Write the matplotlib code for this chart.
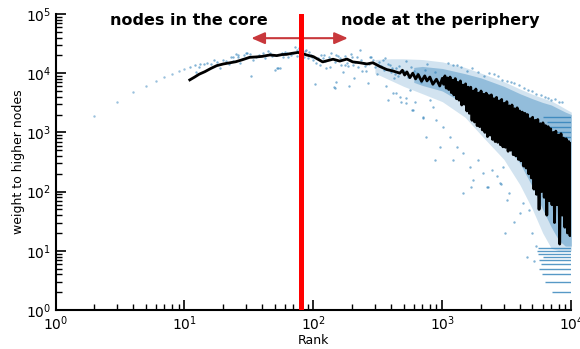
import numpy as np
import matplotlib
matplotlib.use('Agg')
import matplotlib.pyplot as plt

# points for the very first ranks
head_rank = [2, 3, 4, 5, 6, 7, 8, 9, 10]
head_weight = [1900, 3250, 4800, 6000, 7400, 8700, 9700, 11000, 11700]

# stray points
cloud_rank = [11, 12.2, 13.1, 14.2, 15, 16, 17, 19, 21, 23, 24, 25, 26, 27, 29, 30.7,
              12, 13, 33, 30, 36, 41, 44.5, 52, 55, 56.6, 62, 67.6, 72, 74, 78, 86, 91, 96, 99,
              105, 112, 119, 126, 138, 146, 160, 170, 181, 191, 203, 216, 229, 250, 265, 290,
              317, 336, 356, 378, 401, 425, 440, 50, 53, 102, 146, 151, 208, 481, 527, 586,
              610, 560, 440, 366, 144, 190, 707, 590, 900, 527, 468, 415, 850,
              870, 710, 800, 750, 1020, 960, 1140, 1290, 1200, 1450, 1630, 1720, 1900, 2070,
              2270, 2410, 2640, 2780, 2960, 1450, 1680, 2200, 2860, 3050, 3180, 3300, 3600,
              3970, 4500, 4200, 4700, 5000, 5100, 5300,
              1100, 1300, 1700, 2300, 2500, 3200, 3600, 4300, 5000, 5800, 6600, 7500, 8500,
              120, 135, 155, 175, 195, 240, 275, 310, 345, 390, 450, 520, 600, 680, 760,
              18, 20, 22, 24, 26, 28, 32, 34, 38, 42, 46, 48, 58, 60, 64, 70, 75, 80, 84, 88, 93, 98,
              108, 115, 124, 132, 150, 165, 175, 185, 198, 210, 222, 235, 245, 258, 270, 282,
              300, 325, 350, 380, 410, 430, 460, 500, 540, 570, 640, 700, 740, 820, 880, 940,
              1200, 1400, 1550, 1900, 2100, 2700, 2900, 3400, 3900, 4600, 5300, 6200, 7000, 8000]
cloud_weight = [12900, 10600, 14100, 14100, 14700, 14100, 16500, 12000, 16000, 19000, 18500,
                21000, 18500, 15000, 20300, 22000,
                13500, 12800, 8800, 21700, 19000, 21700, 23400, 12000, 12000, 21700, 21700,
                20300, 28000, 24700, 26300, 23400, 17900, 20300, 16500,
                14800, 13800, 17900, 12300, 21700, 15500, 17900, 10600, 14800, 16500, 13800,
                19000, 24700, 13000, 6700, 16500,
                13800, 13000, 17900, 3500, 10600, 8200, 12300, 11500, 12000, 6600, 5600, 7200,
                8200, 3300, 3800, 2400,
                3300, 5200, 4600, 6000, 5800, 6000, 1740, 2400, 1600, 3100, 4000, 4600, 2700,
                340, 1800, 3500, 850, 1250, 570, 850, 570, 340, 440, 260, 155, 340, 205,
                120, 230, 180, 140, 260, 93, 120, 120, 135, 20, 72, 93, 31,
                43, 8, 63, 49, 20, 6.7, 12,
                15000, 14000, 12000, 10000, 9500, 7500, 6800, 5600, 5000, 4300, 3800, 3600, 3200,
                20500, 12500, 19500, 14000, 21000, 11000, 18500, 9500, 17000, 13500, 9000,
                16000, 11000, 7000, 14500,
                15500, 17000, 14500, 16000, 20000, 17500, 21000, 17000, 20500, 18000, 22000,
                19500, 19000, 23000, 18500, 22000, 19500, 21500, 19000, 25000, 22500, 18500,
                18000, 20500, 16000, 19000, 20000, 14000, 19500, 13000, 18500, 15500, 12500,
                17000, 15000, 11000, 14500, 18500,
                12500, 15500, 11500, 14500, 12000, 9500, 13000, 11000, 8500, 12500, 10000,
                8000, 11500, 7500, 10500, 6000,
                13500, 12500, 11000, 10500, 9000, 8800, 7800, 7000, 6200, 5200, 4500, 3900,
                3500, 3300]

# extent of the dense part of the cloud
band_rank = [300, 400, 500, 700, 1000, 1500, 2000, 3000, 4000, 5000, 6000, 7000, 8000, 9000, 10000]
outer_hi = [17000, 17500, 17500, 17000, 15500, 12500, 10000, 7200, 5400, 4400, 3800, 3400, 2900, 2500, 2200]
outer_lo = [10000, 7500, 6000, 4500, 3300, 1800, 900, 350, 130, 50, 20, 11, 10, 10, 10]
inner_rank = [600, 700, 1000, 1500, 2000, 3000, 4000, 5000, 6000, 7000, 8000, 9000, 10000]
inner_hi = [12500, 13000, 12000, 9800, 8300, 6000, 4500, 3700, 3200, 2900, 2500, 2200, 2000]
inner_lo = [7000, 6200, 5000, 3000, 1700, 700, 300, 120, 50, 25, 15, 12, 12]

# ranks sharing the same small weight (horizontal streaks)
streak_weight = [2, 3, 4, 5, 6, 7, 8, 9, 10, 11]
streak_start = [7060, 6200, 5900, 5650, 5800, 5650, 6000, 5500, 5400, 5500]
top_streak_weight = [1850, 1520, 1250, 1030, 850]
top_streak_start = [6000, 6500, 6200, 6800, 7000]

# moving average
avg_rank = [11, 12, 13, 14.4, 16, 17.8, 20, 22.5, 25, 28, 32, 36, 40, 46, 52, 57, 62, 68, 76,
            82, 88.5, 95, 100, 118, 142, 160, 182, 202, 229, 260, 289, 327, 371, 413, 468,
            490, 510, 531, 560, 590, 620, 650, 690, 730, 760, 800, 844, 900, 955,
            1000, 1023, 1047, 1072, 1096, 1122, 1148, 1175, 1202, 1230, 1259, 1288, 1318,
            1349, 1380, 1413, 1445, 1479, 1514, 1549, 1585, 1622, 1660, 1698, 1738, 1778,
            1820, 1862, 1905, 1950, 1995, 2042, 2089, 2138, 2188, 2239, 2291, 2344, 2399,
            2455, 2512, 2570, 2630, 2692, 2754, 2818, 2884, 2951, 3020, 3090, 3162, 3236,
            3311, 3388, 3467, 3548, 3631, 3715, 3802, 3890, 3981, 4074, 4169, 4266, 4365,
            4467, 4571, 4677, 4786, 4898, 5012, 5129, 5248, 5370, 5495, 5623, 5754, 5888,
            6026, 6166, 6310, 6457, 6607, 6761, 6918, 7079, 7244, 7413, 7586, 7762, 7943,
            8128, 8318, 8511, 8710, 8913, 9120, 9333, 9550, 9772, 10000]
avg_weight = [7700, 8600, 9600, 10600, 12000, 13400, 14300, 15000, 15600, 16800, 18500, 18800,
              19200, 20300, 19800, 20600, 20800, 21600, 22400, 21500, 20300, 19500, 19000,
              15500, 17200, 16000, 17300, 15500, 15000, 14300, 15000, 13000, 11500, 10900,
              10000, 11200, 9300, 10500, 8400, 10000, 8000, 9500, 7300, 9000, 7400, 8600, 6500,
              7900, 6100,
              8200, 6500, 9000, 5600, 8300, 5300, 8600, 4700, 7600, 4300, 8100, 3700, 7000,
              3500, 7400, 2900, 6300, 3000, 6600, 2300, 5800, 2100, 5800, 1600, 5000, 1500,
              5400, 1300, 4600, 1250, 5000, 1100, 4400, 1000, 4600, 850, 4200, 900, 4300,
              760, 3700, 700, 3900, 680, 3400, 620, 3600, 570, 3100, 560, 3300, 480,
              2800, 500, 2900, 420, 2500, 400, 2600, 350, 2300, 330, 2200, 270, 2100,
              250, 2000, 200, 1700, 170, 1800, 110, 1600, 90, 1650, 50, 1400, 100,
              1450, 80, 1300, 40, 1250, 70, 1150, 60, 1000, 30, 1050, 60,
              900, 13, 950, 40, 800, 25, 780, 20, 700, 18, 650]

core_limit = 80

fig, ax = plt.subplots(figsize=(5.8, 3.49), dpi=100)
fig.subplots_adjust(left=0.0957, right=0.985, bottom=0.1117, top=0.96)

blue = '#1f77b4'
ax.fill_between(band_rank, outer_lo, outer_hi, color=blue, alpha=0.2, lw=0)
ax.fill_between(inner_rank, inner_lo, inner_hi, color=blue, alpha=0.35, lw=0)
ax.scatter(head_rank, head_weight, s=3, color=blue, alpha=0.45, lw=0)
ax.scatter(cloud_rank, cloud_weight, s=3, color=blue, alpha=0.55, lw=0)
ax.hlines(streak_weight, streak_start, 10000, color=blue, lw=1.0, alpha=0.75)
ax.hlines(top_streak_weight, top_streak_start, 10000, color=blue, lw=1.0, alpha=0.7)
ax.plot(avg_rank, avg_weight, color='black', lw=2.0)

ax.axvline(core_limit, color='red', lw=3.6, zorder=5)
ax.annotate('', xy=(33, 39000), xytext=(185, 39000),
            arrowprops=dict(arrowstyle='<|-|>,head_length=0.8,head_width=0.35',
                            color='#c8383c', lw=1.5, mutation_scale=10, shrinkA=0, shrinkB=0),
            zorder=4)

ax.set_xscale('log')
ax.set_yscale('log')
ax.set_xlim(1, 1e4)
ax.set_ylim(1, 1e5)
ax.spines['top'].set_visible(False)
ax.spines['right'].set_visible(False)
ax.spines['left'].set_linewidth(1.5)
ax.spines['bottom'].set_linewidth(1.5)
ax.tick_params(which='major', direction='in', length=7, width=1.2, labelsize=10, pad=3)
ax.tick_params(which='minor', direction='in', length=4, width=1)
ax.set_xlabel('Rank', fontsize=9, labelpad=1)
ax.set_ylabel('weight to higher nodes', fontsize=9)
ax.yaxis.set_label_coords(-0.059, 0.5)

fig.text(0.326, 0.928, 'nodes in the core', fontsize=11.5, fontweight='bold', ha='center', va='baseline')
fig.text(0.759, 0.928, 'node at the periphery', fontsize=11.5, fontweight='bold', ha='center', va='baseline')

fig.savefig('out.png', dpi=100)
